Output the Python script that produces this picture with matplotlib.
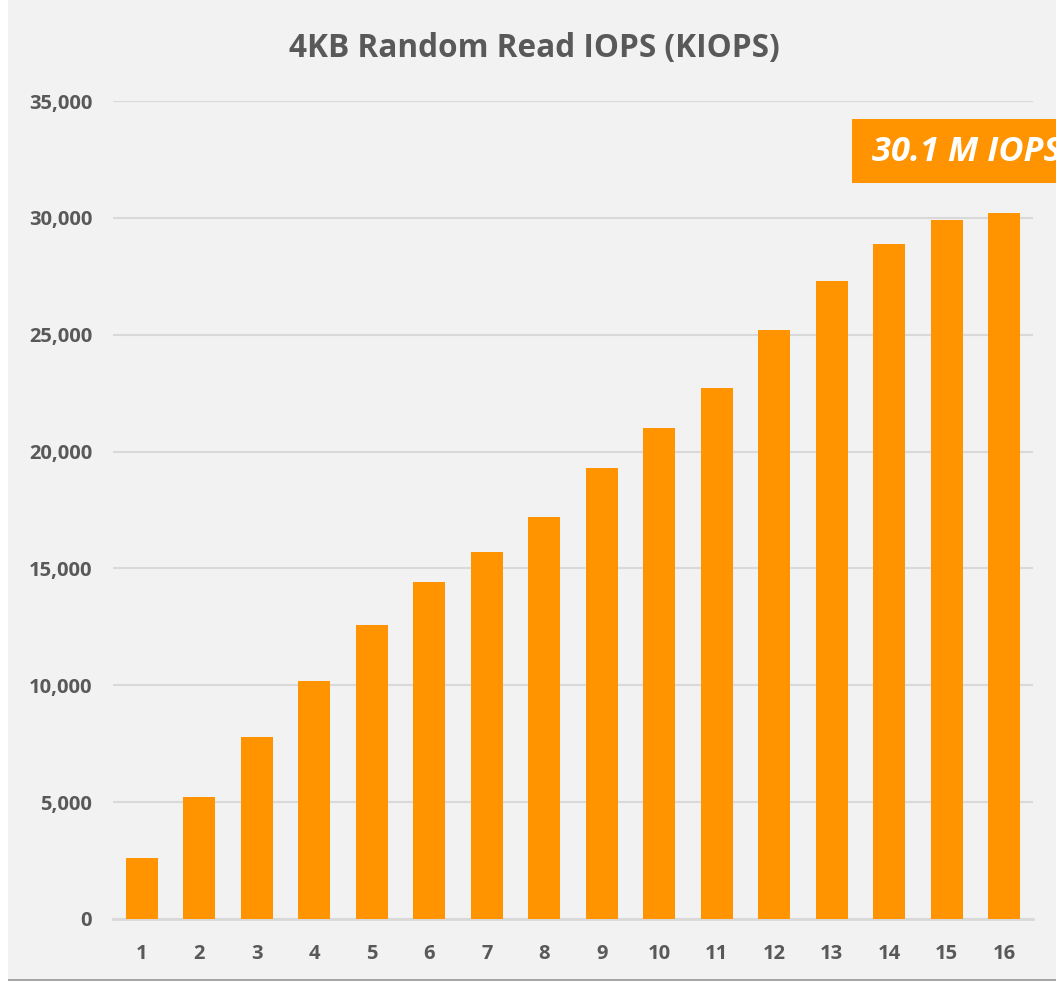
import matplotlib.pyplot as plt
from matplotlib.patches import Rectangle
from matplotlib.ticker import FuncFormatter

# data (KIOPS)
threads = list(range(1, 17))
kiops = [2600, 5200, 7800, 10200, 12600, 14400, 15700, 17200,
         19300, 21000, 22700, 25200, 27300, 28900, 29900, 30200]
yticks = [0, 5000, 10000, 15000, 20000, 25000, 30000, 35000]

orange = '#FF9300'
grey_txt = '#595959'
bg = '#F2F2F2'

plt.rcParams['font.family'] = ['Open Sans', 'DejaVu Sans']

fig = plt.figure(figsize=(10.56, 9.83), dpi=100, facecolor=bg)
# white strip on the left and frame line at bottom, like the original screenshot
fig.patches.append(Rectangle((0, 0), 8 / 1056, 1, transform=fig.transFigure,
                             facecolor='white', edgecolor='none', zorder=-1))
fig.patches.append(Rectangle((0, 0), 1, 2 / 983, transform=fig.transFigure,
                             facecolor='white', edgecolor='none', zorder=-1))
fig.patches.append(Rectangle((8 / 1056, 2 / 983), 1, 2 / 983, transform=fig.transFigure,
                             facecolor='#A6A6A6', edgecolor='none', zorder=-1))

ax = fig.add_axes([113 / 1056, 64 / 983, 920 / 1056, 818 / 983])
ax.set_facecolor(bg)

ax.bar(threads, kiops, width=0.56, color=orange, zorder=3)

ax.set_xlim(0.5, 16.5)
ax.set_ylim(0, 35000)
ax.set_xticks(threads)
ax.set_yticks(yticks)
ax.yaxis.set_major_formatter(FuncFormatter(lambda v, p: f'{int(v):,}'))
ax.grid(axis='y', color='#D9D9D9', linewidth=1.5, zorder=0)
for s in ['top', 'right', 'left']:
    ax.spines[s].set_visible(False)
ax.spines['bottom'].set_color('#D9D9D9')
ax.spines['bottom'].set_linewidth(2)
ax.tick_params(axis='both', length=0, labelsize=14.5, labelcolor=grey_txt)
ax.tick_params(axis='y', pad=15)
ax.tick_params(axis='x', pad=18)
for lbl in ax.get_xticklabels() + ax.get_yticklabels():
    lbl.set_fontweight('bold')

fig.text(534 / 1056, 1 - 48 / 983, '4KB Random Read IOPS (KIOPS)',
         ha='center', va='center', fontsize=22.7, fontweight='bold', color=grey_txt)

# orange callout box, cut off at the right edge as in the original
fig.patches.append(Rectangle((852 / 1056, 1 - 183 / 983), 0.2, 64 / 983,
                             transform=fig.transFigure, facecolor=orange,
                             edgecolor='none', zorder=5))
fig.text(872 / 1056, 1 - 152 / 983, '30.1 M IOPS', ha='left', va='center',
         fontsize=24.8, fontweight='bold', fontstyle='italic', color='white', zorder=6)

fig.savefig('out.png', dpi=100, facecolor=bg)
